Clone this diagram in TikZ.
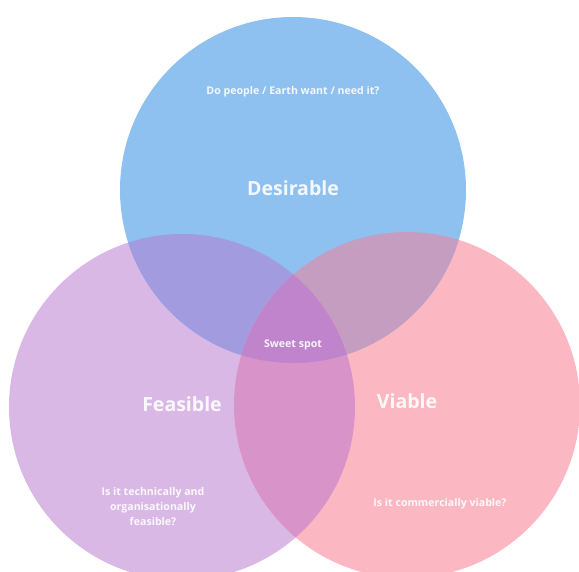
\documentclass[tikz,border=0pt]{standalone}
\usepackage{fontspec}
\setmainfont{Open Sans}
\usetikzlibrary{positioning}
\definecolor{desblue}{HTML}{8EC0F0}
\definecolor{feapurple}{HTML}{D9B8E6}
\definecolor{viapink}{HTML}{FBB8C2}
\definecolor{desfea}{HTML}{A29BE0}
\definecolor{desvia}{HTML}{C49DC0}
\definecolor{feavia}{HTML}{D894C8}
\definecolor{sweet}{HTML}{C084CC}
\tikzset{
x=1pt, y=-1pt, % one unit is one pixel of the reference
every node/.style={text=white, text opacity=0.9, inner sep=0pt}, % all labels are white
bigname/.style={font=\bfseries\fontsize{19.5}{22}\selectfont}, % circle names
question/.style={font=\bfseries\fontsize{10.6}{15}\selectfont, align=center}, % small questions
}

\begin{document}
\begin{tikzpicture}
    \useasboundingbox (0,0) rectangle (579,572);
    \coordinate (des) at (293,190);
    \coordinate (fea) at (182,407);
    \coordinate (via) at (407,405);

    % the three circles
    \fill[feapurple] (fea) circle[radius=173pt];
    \fill[viapink] (via) circle[radius=173pt];
    \fill[desblue] (des) circle[radius=173pt];

    % the overlaps
    \begin{scope}
        \clip (des) circle[radius=173pt];
        \fill[desfea] (fea) circle[radius=173pt];
        \fill[desvia] (via) circle[radius=173pt];
    \end{scope}
    \begin{scope}
        \clip (fea) circle[radius=173pt];
        \fill[feavia] (via) circle[radius=173pt];
        \clip (via) circle[radius=173pt];
        \fill[sweet] (des) circle[radius=173pt];
    \end{scope}

    \node[bigname] (desname) at (293,188) {Desirable};
    \node[bigname] (feaname) at (182,404) {Feasible};
    \node[bigname] (vianame) at (407,401) {Viable};
    \node[question] (desq) at (293,92) {Do people / Earth want / need it?};
    \node[question] (feaq) at (153,507) {Is it technically and\\organisationally\\feasible?};
    \node[question] (viaq) at (440,504) {Is it commercially viable?};
    \node[question] (spot) at (293,345) {Sweet spot};
\end{tikzpicture}
\end{document}
